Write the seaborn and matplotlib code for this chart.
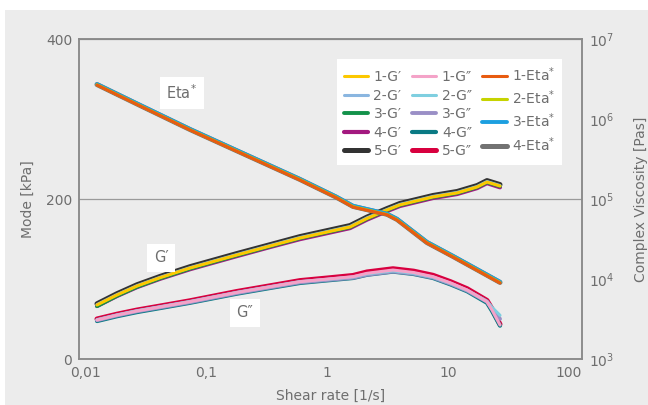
import numpy as np
import pandas as pd
import seaborn as sns
import matplotlib.pyplot as plt
from matplotlib.ticker import LogLocator, NullLocator
from matplotlib.patches import Rectangle

# shear rate points [1/s]
g1_x = [0.01256, 0.01837, 0.0269, 0.0417, 0.0738, 0.18, 0.338, 0.598, 1.55, 2.14, 3.13, 4.0,
        7.52, 11.9, 17.4, 21.0, 26.9]
g2_x = [0.01256, 0.01837, 0.0269, 0.0417, 0.0738, 0.18, 0.338, 0.598, 1.0, 1.64, 2.14, 3.51,
        5.2, 7.52, 10.5, 14.4, 21.0, 23.1, 26.9]
eta_x = [0.01256, 0.0285, 0.0738, 0.21, 0.598, 1.19, 1.64, 3.13, 3.79, 6.70, 11.0, 18.0, 26.9]

# storage modulus G' [kPa], samples 1-5
gp1 = [67.9, 80.4, 91.6, 102.0, 114.1, 130.4, 141.6, 151.6, 165.4, 176.0, 186.6, 193.0, 203.0, 208.0, 215.4, 221.6, 216.6]
gp2 = [68.4, 80.9, 92.1, 102.5, 114.6, 131.0, 142.2, 152.2, 166.0, 176.8, 187.2, 193.6, 203.6, 208.6, 216.0, 222.2, 217.2]
gp3 = [66.4, 79.4, 90.6, 101.2, 113.4, 130.0, 141.2, 151.4, 165.2, 175.8, 186.4, 192.8, 202.8, 207.8, 215.2, 221.4, 216.4]
gp4 = [66.6, 79.1, 90.2, 100.6, 112.6, 129.0, 140.3, 150.2, 164.0, 174.6, 185.2, 191.6, 201.6, 206.6, 214.0, 220.2, 215.0]
gp5 = [69.4, 82.0, 93.2, 103.6, 115.8, 132.2, 143.3, 153.4, 167.2, 177.8, 188.4, 194.8, 204.8, 209.8, 217.2, 223.4, 218.4]

# loss modulus G'' [kPa], samples 1-5
gpp1 = [49.1, 55.2, 60.4, 65.4, 72.0, 83.5, 90.6, 97.0, 100.2, 103.3, 107.5, 111.6, 108.5, 103.3, 95.5, 86.6, 72.0, 61.6, 42.9]
gpp2 = [49.6, 55.6, 60.8, 65.8, 72.4, 83.8, 90.9, 97.2, 100.0, 103.0, 106.8, 110.6, 107.6, 102.8, 95.0, 86.4, 72.6, 65.0, 55.0]
gpp3 = [48.8, 54.8, 60.0, 64.9, 71.4, 82.8, 89.9, 96.2, 99.2, 102.0, 105.8, 109.8, 107.0, 102.2, 94.4, 85.8, 72.0, 63.5, 50.5]
gpp4 = [47.8, 53.8, 59.0, 64.0, 70.6, 82.0, 89.1, 95.4, 98.6, 101.6, 105.6, 109.6, 106.6, 101.6, 93.6, 85.0, 70.6, 60.4, 42.0]
gpp5 = [50.4, 56.4, 61.6, 66.6, 73.2, 84.8, 91.9, 98.4, 101.6, 104.8, 109.2, 113.2, 110.2, 105.0, 97.0, 88.2, 73.6, 63.0, 43.8]

# complex viscosity Eta* [Pas], samples 1-4
eta1 = [2.68e6, 1.47e6, 7.35e5, 3.58e5, 1.74e5, 1.05e5, 8.0e4, 6.4e4, 5.5e4, 2.84e4, 1.9e4, 1.26e4, 9.0e3]
eta2 = [2.70e6, 1.48e6, 7.40e5, 3.61e5, 1.76e5, 1.06e5, 8.1e4, 6.45e4, 5.55e4, 2.87e4, 1.92e4, 1.27e4, 9.1e3]
eta3 = [2.75e6, 1.51e6, 7.55e5, 3.68e5, 1.79e5, 1.08e5, 8.3e4, 6.6e4, 5.7e4, 2.93e4, 1.96e4, 1.30e4, 9.3e3]
eta4 = [2.72e6, 1.49e6, 7.45e5, 3.63e5, 1.77e5, 1.065e5, 8.15e4, 6.5e4, 5.6e4, 2.88e4, 1.93e4, 1.28e4, 9.15e3]

gp_colors = ["#fcc800", "#8ab6e0", "#13924a", "#a3197f", "#333333"]
gpp_colors = ["#f4a3c8", "#7fcfe0", "#9a8fc6", "#0a7a84", "#d8003f"]
eta_colors = ["#e85b10", "#c6d300", "#1c9fe0", "#727272"]
widths = [2.2, 2.2, 2.8, 3.0, 3.6]
eta_widths = [2.2, 2.2, 2.8, 3.6]

txt = "#6e6e6e"
edge = "#8a8a8a"

sns.set_theme(style="white")
plt.rcParams["font.family"] = ["DejaVu Sans"]

fig = plt.figure(figsize=(6.48, 4.05), dpi=100, facecolor="white")
fig.patches.append(Rectangle((5 / 648, 0), 1, 395 / 405, transform=fig.transFigure,
                             facecolor="#ececec", edgecolor="none", zorder=-10))
ax = fig.add_axes([79.3 / 648, (405 - 359.3) / 405, 503 / 648, 320 / 405])
ax.set_facecolor("#ececec")
ax2 = ax.twinx()

handles = {}
gp_all = [gp1, gp2, gp3, gp4, gp5]
gpp_all = [gpp1, gpp2, gpp3, gpp4, gpp5]
eta_all = [eta1, eta2, eta3, eta4]

# thick samples first so the thin ones end up on top
for i in reversed(range(5)):
    sns.lineplot(x=g2_x, y=gpp_all[i], ax=ax, color=gpp_colors[i], lw=widths[i],
                 sort=False, legend=False, solid_capstyle="round", solid_joinstyle="round")
    handles[f"{i+1}-G\u2033"] = ax.lines[-1]
for i in reversed(range(5)):
    sns.lineplot(x=g1_x, y=gp_all[i], ax=ax, color=gp_colors[i], lw=widths[i],
                 sort=False, legend=False, solid_capstyle="round", solid_joinstyle="round")
    handles[f"{i+1}-G\u2032"] = ax.lines[-1]
for i in reversed(range(4)):
    sns.lineplot(x=eta_x, y=eta_all[i], ax=ax2, color=eta_colors[i], lw=eta_widths[i],
                 sort=False, legend=False, solid_capstyle="round", solid_joinstyle="round")
    handles[f"{i+1}-Eta$^{{*}}$"] = ax2.lines[-1]

ax.set_xscale("log")
ax.set_xlim(0.00897, 128.8)
ax.set_ylim(0, 400)
ax.set_xticks([0.01, 0.1, 1, 10, 100])
ax.set_xticklabels(["0,01", "0,1", "1", "10", "100"])
ax.xaxis.set_minor_locator(NullLocator())
ax.set_yticks([0, 200, 400])
ax.grid(axis="y", color="#9a9a9a", lw=0.9)
ax.grid(axis="x", visible=False)
ax.set_axisbelow(True)

ax2.set_yscale("log")
ax2.set_ylim(1e3, 1e7)
ax2.yaxis.set_major_locator(LogLocator(base=10, numticks=10))
ax2.yaxis.set_minor_locator(NullLocator())

for a in (ax, ax2):
    a.tick_params(length=0, labelsize=10, colors=txt, pad=5)
    for s in a.spines.values():
        s.set_visible(True)
        s.set_color(edge)
        s.set_linewidth(1.1)

ax.set_ylabel("Mode [kPa]", color=txt, fontsize=10, labelpad=8)
ax.set_xlabel("Shear rate [1/s]", color=txt, fontsize=10, labelpad=6)
ax2.set_ylabel("Complex Viscosity [Pas]", color=txt, fontsize=10, labelpad=14)

box = dict(boxstyle="square,pad=0.45", fc="white", ec="none")
ax.text(0.204, 0.832, "Eta$^{*}$", transform=ax.transAxes, ha="center", va="center",
        fontsize=10.5, color=txt, bbox=box)
ax.text(0.163, 0.317, "G\u2032", transform=ax.transAxes, ha="center", va="center",
        fontsize=10.5, color=txt, bbox=box)
ax.text(0.329, 0.145, "G\u2033", transform=ax.transAxes, ha="center", va="center",
        fontsize=10.5, color=txt, bbox=box)

order = [f"{i}-G\u2032" for i in range(1, 6)] + [f"{i}-G\u2033" for i in range(1, 6)] \
    + [f"{i}-Eta$^{{*}}$" for i in range(1, 5)]
leg = ax2.legend([handles[k] for k in order], order, ncol=3, loc="upper right",
                 bbox_to_anchor=(0.959, 0.938), borderaxespad=0, fontsize=10,
                 frameon=True, fancybox=False, framealpha=1, handlelength=1.75,
                 columnspacing=0.75, labelspacing=0.33, borderpad=0.45, handletextpad=0.4)
leg.get_frame().set_facecolor("white")
leg.get_frame().set_edgecolor("none")
for t in leg.get_texts():
    t.set_color(txt)

fig.savefig("out.png", dpi=100, facecolor=fig.get_facecolor())
